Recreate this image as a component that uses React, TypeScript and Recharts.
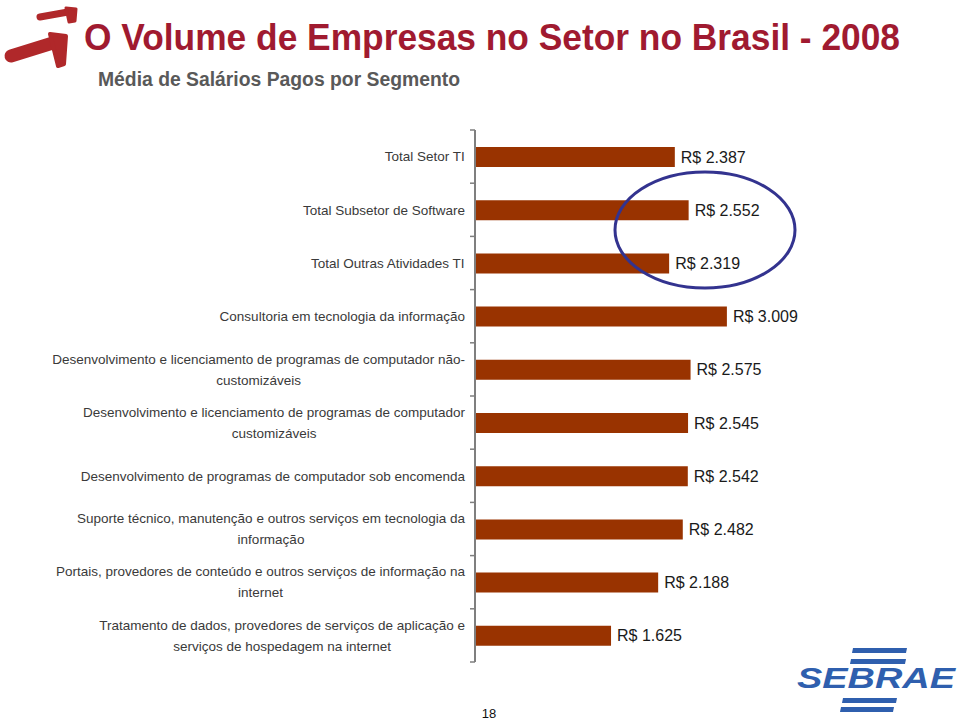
import React from "react"
import { BarChart, Bar, XAxis, YAxis, LabelList } from "recharts"

const categories = [
  "Total Setor TI",
  "Total Subsetor de Software",
  "Total Outras Atividades TI",
  "Consultoria em tecnologia da informação",
  "Desenvolvimento e licenciamento de programas de computador não-\ncustomizáveis",
  "Desenvolvimento e licenciamento de programas de computador\ncustomizáveis",
  "Desenvolvimento de programas de computador sob encomenda",
  "Suporte técnico, manutenção e outros serviços em tecnologia da\ninformação",
  "Portais, provedores de conteúdo e outros serviços de informação na\ninternet",
  "Tratamento de dados, provedores de serviços de aplicação e\nserviços de hospedagem na internet",
]
const salaries = [2387, 2552, 2319, 3009, 2575, 2545, 2542, 2482, 2188, 1625]
const xDomain = [0, 3500]

const title = "O Volume de Empresas no Setor no Brasil - 2008"
const subtitle = "Média de Salários Pagos por Segmento"
const pageNumber = "18"

// layout
const W = 960
const H = 720
const AXIS_X = 475
const PLOT_TOP = 130
const PLOT_BOTTOM = 662
const BAND = (PLOT_BOTTOM - PLOT_TOP) / categories.length
const FONT = "'Liberation Sans', Arial, sans-serif"
const TICK_FONT_SIZE = 13.5

const data = categories.map((name, i) => ({ name, salary: salaries[i] }))

const formatBRL = (v: number) => {
  const s = String(Math.round(v))
  return "R$ " + s.replace(/\B(?=(\d{3})+(?!\d))/g, ".")
}

let ctx: CanvasRenderingContext2D | null = null
const measure = (text: string) => {
  if (!ctx) ctx = document.createElement("canvas").getContext("2d")
  if (!ctx) return text.length * 6.5
  ctx.font = `${TICK_FONT_SIZE}px 'Liberation Sans', Arial, sans-serif`
  return ctx.measureText(text).width
}

function CategoryTick(props: any) {
  const { y, payload, index } = props
  const lines = String(payload.value).split("\n")
  const widest = Math.max(...lines.map(measure))
  const right = AXIS_X - 10
  const cx = right - widest / 2
  const lh = 21
  const y0 = y - ((lines.length - 1) * lh) / 2
  const top = y - BAND / 2
  return (
    <g>
      <line x1={AXIS_X - 5} x2={AXIS_X} y1={top} y2={top} stroke="#7f7f7f" strokeWidth={1.5} />
      {index === categories.length - 1 && (
        <line x1={AXIS_X - 5} x2={AXIS_X} y1={top + BAND} y2={top + BAND} stroke="#7f7f7f" strokeWidth={1.5} />
      )}
      <text textAnchor="middle" fill="#3a3a3a" fontSize={TICK_FONT_SIZE} fontFamily={FONT}>
        {lines.map((l, i) => (
          <tspan key={i} x={cx} y={y0 + i * lh} dy="0.35em">
            {l}
          </tspan>
        ))}
      </text>
    </g>
  )
}

function Header() {
  return (
    <svg width={W} height={110} style={{ position: "absolute", left: 0, top: 0 }}>
      {/* arrows logo */}
      <g fill="#b0282a" stroke="#b0282a" strokeLinecap="round" strokeLinejoin="round">
        <path d="M40 17 L68 12" strokeWidth={7} fill="none" />
        <path d="M66 8 L76 9 L75 21 L69 22 Z" strokeWidth={3} />
        <path d="M11 56 L56 42" strokeWidth={13} fill="none" />
        <path d="M50 34 L66 36 L64 64 L58 66 Z" strokeWidth={4} />
      </g>
      <text
        x={84}
        y={50}
        fontFamily={FONT}
        fontWeight="bold"
        fontSize={36}
        fill="#a01a30"
        textLength={816}
        lengthAdjust="spacingAndGlyphs"
      >
        {title}
      </text>
      <text
        x={98}
        y={86}
        fontFamily={FONT}
        fontWeight="bold"
        fontSize={20}
        fill="#595959"
        textLength={362}
        lengthAdjust="spacingAndGlyphs"
      >
        {subtitle}
      </text>
    </svg>
  )
}

function Footer() {
  return (
    <svg width={W} height={H} style={{ position: "absolute", left: 0, top: 0, pointerEvents: "none" }}>
      <ellipse cx={705} cy={230} rx={90} ry={58} fill="none" stroke="#33338f" strokeWidth={3} />
      <text x={489} y={718} textAnchor="middle" fontFamily={FONT} fontSize={13} fill="#111">
        {pageNumber}
      </text>
      {/* SEBRAE logo */}
      <g fill="#2f5fae">
        <polygon points="853,648 907,648 906,653 852,653" />
        <polygon points="851,659 906,659 905,664 850,664" />
        <polygon points="843,698 897,698 896,703 842,703" />
        <polygon points="841,707 894,707 893,712 840,712" />
        <text
          x={797}
          y={688}
          fontFamily={FONT}
          fontWeight="bold"
          fontStyle="italic"
          fontSize={29}
          textLength={158}
          lengthAdjust="spacingAndGlyphs"
        >
          SEBRAE
        </text>
      </g>
    </svg>
  )
}

export default function App() {
  return (
    <div style={{ position: "absolute", left: 0, top: 0, width: W, height: H, background: "#fff", fontFamily: FONT }}>
      <Header />
      <div style={{ position: "absolute", left: 0, top: 0 }}>
        <BarChart
          width={W}
          height={H}
          data={data}
          layout="vertical"
          margin={{ top: PLOT_TOP, bottom: H - PLOT_BOTTOM, left: 0, right: 192 }}
        >
          <XAxis type="number" domain={xDomain} hide />
          <YAxis
            type="category"
            dataKey="name"
            width={AXIS_X}
            axisLine={{ stroke: "#7f7f7f", strokeWidth: 2 }}
            tickLine={false}
            tick={<CategoryTick />}
            interval={0}
          />
          <Bar dataKey="salary" fill="#993300" barSize={20} isAnimationActive={false}>
            <LabelList
              dataKey="salary"
              position="right"
              offset={6}
              formatter={(v: any) => formatBRL(Number(v))}
              fill="#1a1a1a"
              fontSize={16}
              fontFamily={FONT}
            />
          </Bar>
        </BarChart>
      </div>
      <Footer />
    </div>
  )
}
